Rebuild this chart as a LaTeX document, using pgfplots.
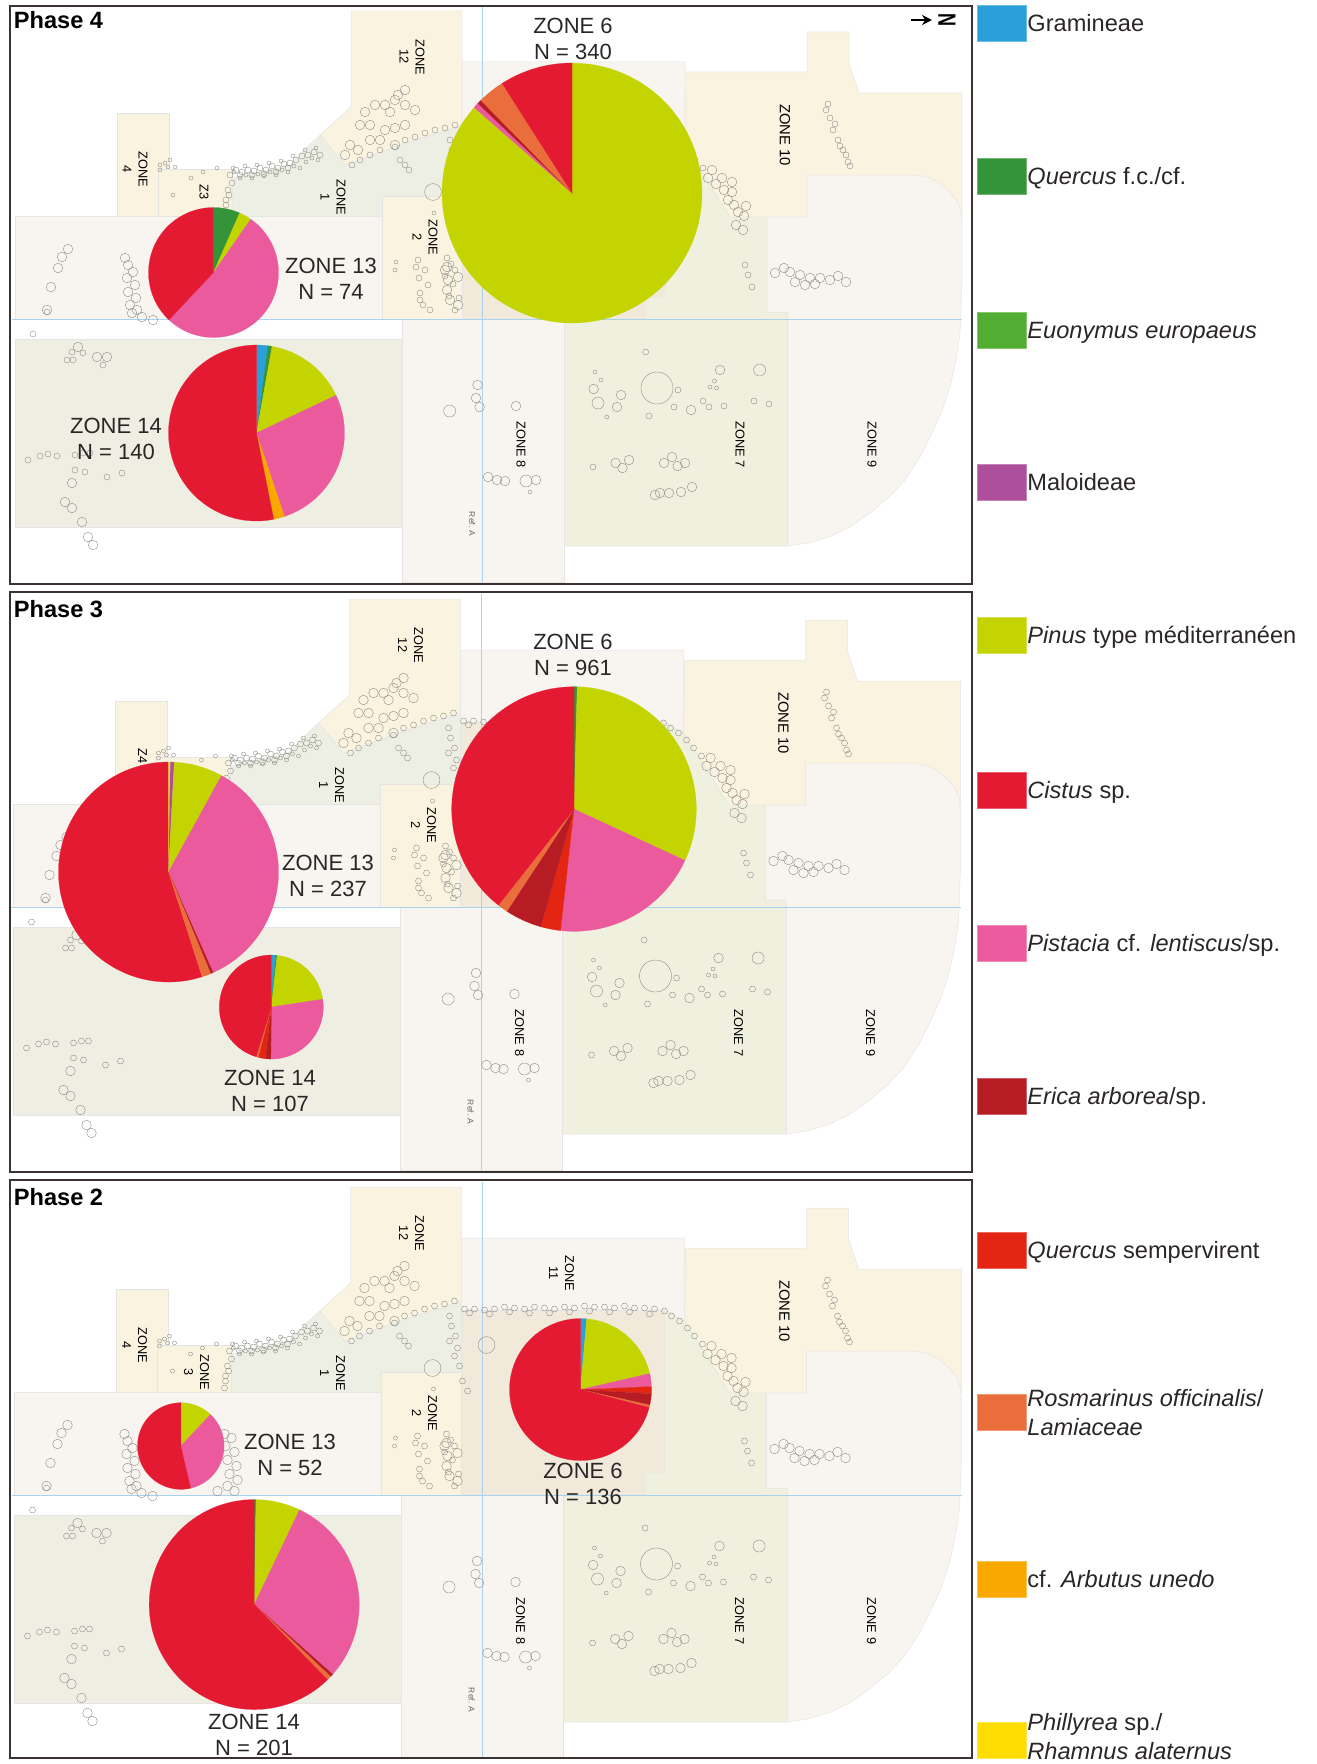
\documentclass[border=0pt]{standalone}
\usepackage{pgfplots}
\usepackage{fontspec}
\setmainfont{Liberation Sans}
\usetikzlibrary{arrows.meta}
\pgfplotsset{compat=1.18}
\definecolor{cGram}{HTML}{29A0D8}
\definecolor{cQfc}{HTML}{35943A}
\definecolor{cEuon}{HTML}{52AE32}
\definecolor{cMal}{HTML}{AE4F9B}
\definecolor{cPin}{HTML}{C3D400}
\definecolor{cCis}{HTML}{E41A32}
\definecolor{cPis}{HTML}{EB5A9C}
\definecolor{cEri}{HTML}{B71C25}
\definecolor{cQse}{HTML}{E22613}
\definecolor{cRos}{HTML}{E96E3C}
\definecolor{cArb}{HTML}{F9A800}
\definecolor{cPhi}{HTML}{FFDD00}
\definecolor{zCream}{HTML}{FAF3E0}
\definecolor{zGray}{HTML}{F8F5F0}
\definecolor{zSage}{HTML}{EEEFE4}
\definecolor{zOlive}{HTML}{F0F0DE}
\definecolor{zBrown}{HTML}{F1E9DA}
\definecolor{zTan}{HTML}{EFEEE3}
\definecolor{gridblue}{HTML}{A9D2EE}
\definecolor{ink}{HTML}{2B2626}
\definecolor{frame}{HTML}{3A3331}
\definecolor{stone}{HTML}{8F8D89}
% polygon helper
\newcommand\Z[2]{\addplot[fill=#1,draw=black!10,line width=0.25pt] coordinates {#2} -- cycle;}
% one slice of a pie: cx cy r start end colour (degrees clockwise from north)
\newcommand\W[6]{\addplot[fill=#6,draw=#6,line width=0.1pt,domain=#4:#5,samples=40,smooth=false]
  ({#1+#3*sin(x)},{#2-#3*cos(x)}) -- (axis cs:#1,#2) -- cycle;}
\newcommand\Rot[3]{\node[rotate=-90,align=center,inner sep=0pt,text=black,font=\fontsize{6.4}{8}\selectfont] at (axis cs:#1,#2) {#3};}
\newcommand\Cap[3]{\node[align=center,inner sep=0pt,text=ink,font=\fontsize{11}{13}\selectfont] at (axis cs:#1,#2) {#3};}
\newcommand\Sw[2]{\addplot[fill=#2,draw=#2!70!white,line width=0.3pt] coordinates {(977,#1) (1026,#1) (1026,#1+36) (977,#1+36)} -- cycle;}
\newcommand\Leg[3]{\Sw{#1}{#2}
  \node[anchor=base west,inner sep=0pt,text=ink,font=\fontsize{11.8}{14.5}\selectfont] at (axis cs:1027,#1+26.5) {#3};}
\newcommand\LegT[4]{\Sw{#1}{#2}
  \node[anchor=west,inner sep=0pt,text=ink,font=\fontsize{11.8}{14.5}\selectfont,align=left] at (axis cs:1027,#3) {#4};}
\newcommand\Stones[2]{\addplot[only marks,mark=o,mark size=#1,mark options={draw=stone,line width=0.2pt,fill=none}] coordinates {#2};}
\newcommand\mapbase{%
 \Z{zCream}{(117,113)(169,113)(169,216)(117,216)}
 \Z{zCream}{(158,169)(232,169)(232,216)(158,216)}
 \Z{zCream}{(351,11)(462,11)(462,125)(400,145)(345,165)(320,135)(351,107)}
 \Z{zSage}{(232,217)(232,178)(290,165)(307,147)(320,135)(345,165)(400,145)(465,125)(465,217)}
 \Z{zGray}{(15,216)(382,216)(382,319)(15,319)}
 \Z{zGray}{(462,62)(685,62)(685,145)(665,134)(462,134)}
 \Z{zBrown}{(462,134)(665,134)(665,297)(645,297)(645,319)(462,319)}
 \Z{zCream}{(382,196)(462,196)(462,319)(382,319)}
 \Z{zCream}{(686,72)(807,72)(807,32)(849,32)(849,63)(859,93)(962,93)(962,217)(730,217)(685,145)}
 \Z{zOlive}{(645,319)(645,297)(665,297)(665,134)(685,145)(730,217)(767,217)(767,312)(788,312)(788,546)(564,546)(564,319)}
 \Z{zGray}{(767,217)(807,217)(807,175)(915,175)(927,177)(938,182)(950,192)(957,201)(961,212)(962,225)(962,280)(960,333)(956,360)(950,387)(942,411)(932,433)(920,457)(905,480)(889,497)(870,513)(850,527)(829,537)(808,543)(788,546)(788,312)(767,312)}
 \Z{zGray}{(402,319)(564,319)(564,582)(402,582)}
 \Z{zTan}{(15,339)(402,339)(402,527)(15,527)}
 \addplot[gridblue,line width=0.4pt] coordinates {(12,319) (962,319)};
 \addplot[gridblue,line width=0.4pt] coordinates {(482.5,6) (482.5,582)};
 % stones of the walls and structures
 \Stones{1pt}{(165,163)(170,160)(160,165)(168,167)(175,167)(160,170)(173,195)(203,172)(191,178)(217,168)
   (606.7,417)(595,372)(601,380)(710,387)(716.5,388)(714.5,381)(530,492)(434,213)(396,262)(395,270)
   (234,172)(240,178)(246,175)(252,178)(258,174)(264,176)(270,172)(276,175)(282,170)(288,172)(294,166)(300,168)(306,162)(312,158)(318,160)
   (233,168)(245,166)(257,165)(269,163)(281,161)(293,156)(305,150)(316,148)}
 \Stones{1.5pt}{(230,175)(236,170)(242,172)(248,170)(254,171)(260,168)(266,170)(272,166)(278,168)(284,164)(290,163)(296,160)(302,156)(308,155)(314,152)(320,155)
   (232,183)(229,195)(226,205)(228,190)(226,200)(225,212)(240,175)(252,175)(264,174)(276,172)(288,168)
   (352,165)(360,160)(370,155)(380,150)(395,147)(405,140)(415,137)(425,133)(435,130)(445,128)(455,125)
   (465,133)(475,133)(485,134)(495,133)(505,131)(515,132)(525,133)(535,131)(545,132)(555,133)(565,131)(575,132)(585,130)(595,131)(605,131)(615,132)(625,130)(635,132)(645,132)(655,133)(665,135)(672,140)(680,145)(688,152)(695,160)(703,168)
   (470,137)(490,138)(510,136)(530,137)(550,137)(570,136)(590,135)(610,136)(630,136)(650,138)
   (450,140)(452,150)(456,160)(450,165)(458,172)(455,180)(460,190)(463,205)(468,215)
   (745,265)(748,275)(752,287)(828,104)(830,118)(833,130)(838,140)(843,150)(846,155)(848,162)(826,110)(835,124)(840,146)(850,166)
   (400,160)(405,165)(409,170)
   (645.6,352)(649,416)(678,390)(674,407)(703,401)(709,407)(724,406)(754,401)(769,404)(593,467)
   (33,334)(47,312)(72,352)(83,353)(67,360)(73,360)(103,365)(28,460)(40,456)(48,454)(57,456)(75,455)(83,453)(90,453)(75,470)(85,472)(122,473)(107,477)
   (418,260)(420,293)(425,270)(428,285)(420,300)(430,310)(416,267)(419,278)(423,305)
   (447,258)(451,264)(445,276)(453,284)(449,296)(455,310)(459,298)(455,270)}
 \Stones{2.4pt}{(365,112)(375,105)(385,105)(395,100)(405,105)(415,110)(398,95)(405,90)(390,112)(360,125)(370,125)(385,130)(395,128)(405,125)(350,145)(345,155)(358,150)(370,140)(380,140)(395,145)
   (708,178)(716,184)(724,190)(732,192)(728,200)(734,205)(738,212)(744,216)(736,225)(743,230)(712,170)(722,178)(732,182)(746,206)
   (775,273)(790,272)(800,275)(810,278)(820,278)(795,282)(805,285)(830,280)(838,276)(846,282)(784,268)(815,284)
   (621,395)(617,407)(593.6,389)(691,410)(720,370)(615.6,463)(622.5,468)(629,460)(664,463)(672,457)(677.6,466)(685,463)(655,495)(660,493)(669,493)(681,492)(692,487)(477.5,385)(476,398)(479.6,407)(516,406)(488,477)(497,480)(505,481)(536,480)
   (62,257)(68,249)(58,268)(51,287)(47,310)
   (125,258)(128,265)(133,272)(127,278)(135,285)(128,292)(136,298)(130,305)(137,310)(132,313)(142,317)(153,320)
   (225,258)(232,262)(226,270)(235,276)(228,284)(237,290)(230,298)(238,304)(228,310)(218,315)(235,315)
   (78,347)(97,357)(107,357)(65,502)(72,508)(82,522)(88,537)(93,545)(72,483)
   (447,267)(448,280)(458,277)(447,290)(450,300)(458,305)(445,270)}
 \Stones{3pt}{(598,403)(759.6,370)(449.6,411)(526,481)}
 \Stones{4.2pt}{(433,192)(487,169)}
 \Stones{8pt}{(657,388)}
 % zone labels
 \Rot{412}{57}{ZONE\\12}
 \Rot{333}{197.5}{ZONE\\1}
 \Rot{425}{237}{ZONE\\2}
 \node[rotate=-90,inner sep=0pt,text=black,font=\fontsize{7.4}{9}\selectfont] at (axis cs:785,135) {ZONE 10};
 \Rot{521}{445}{ZONE 8}
 \Rot{740}{445}{ZONE 7}
 \Rot{872}{445}{ZONE 9}
 \node[rotate=-90,inner sep=0pt,text=black!60,font=\fontsize{4.2}{5}\selectfont] at (axis cs:472,524) {Ref. A};
}
\pgfplotsset{mapaxis/.style={hide axis,scale only axis,anchor=north west,width=658pt,height=294pt,
  xmin=0,xmax=1316,ymin=0,ymax=588,y dir=reverse}}
\begin{document}
\begin{tikzpicture}
\path[use as bounding box] (0,0) rectangle (658pt,-882pt);
% Phase 4 map
\begin{axis}[mapaxis,at={(0pt,0pt)}]
 \mapbase
 \Rot{135}{169}{ZONE\\4}
 \node[rotate=-90,inner sep=0pt,text=black,font=\fontsize{6.4}{8}\selectfont] at (axis cs:204,192) {Z3};
\end{axis}
% Phase 3 map
\begin{axis}[mapaxis,at={(-0.75pt,-294pt)}]
 \mapbase
 \node[rotate=-90,inner sep=0pt,text=black,font=\fontsize{6.4}{8}\selectfont] at (axis cs:144,168) {Z4};
\end{axis}
% Phase 2 map
\begin{axis}[mapaxis,at={(-0.25pt,-588pt)}]
 \mapbase
 \Rot{135}{169}{ZONE\\4}
 \Rot{197}{196}{ZONE\\3}
 \Rot{562}{97}{ZONE\\11}
\end{axis}
% page axis: pies, captions, frames, legend
\begin{axis}[hide axis,scale only axis,anchor=north west,at={(0pt,0pt)},width=658pt,height=882pt,
  xmin=0,xmax=1316,ymin=0,ymax=1764,y dir=reverse,clip=false]
 % frames
 \addplot[frame,line width=1pt] coordinates {(10,6)(972,6)(972,584)(10,584)} -- cycle;
 \addplot[frame,line width=1pt] coordinates {(10,592)(972,592)(972,1172)(10,1172)} -- cycle;
 \addplot[frame,line width=1pt] coordinates {(10,1180)(972,1180)(972,1758)(10,1758)} -- cycle;
 % Phase 4
 \W{213.5}{272.5}{65}{0}{23.7}{cQfc}
 \W{213.5}{272.5}{65}{23.7}{35}{cPin}
 \W{213.5}{272.5}{65}{35}{223.3}{cPis}
 \W{213.5}{272.5}{65}{223.3}{360}{cCis}
 \W{256.5}{433}{88}{0}{7.5}{cGram}
 \W{256.5}{433}{88}{7.5}{10.2}{cQfc}
 \W{256.5}{433}{88}{10.2}{64.6}{cPin}
 \W{256.5}{433}{88}{64.6}{161.5}{cPis}
 \W{256.5}{433}{88}{161.5}{168.7}{cArb}
 \W{256.5}{433}{88}{168.7}{360}{cCis}
 \W{572}{193}{130}{0}{311.2}{cPin}
 \W{572}{193}{130}{311.2}{313.6}{cPis}
 \W{572}{193}{130}{313.6}{315.5}{cEri}
 \W{572}{193}{130}{315.5}{327.5}{cRos}
 \W{572}{193}{130}{327.5}{360}{cCis}
 % Phase 3
 \W{168.5}{872}{110}{162.2}{360}{cCis}
 \W{168.5}{872}{110}{0}{1}{cPhi}
 \W{168.5}{872}{110}{1}{3}{cMal}
 \W{168.5}{872}{110}{3}{28.8}{cPin}
 \W{168.5}{872}{110}{28.8}{156.1}{cPis}
 \W{168.5}{872}{110}{156.1}{157.5}{cEri}
 \W{168.5}{872}{110}{157.5}{162.2}{cRos}
 \W{271.3}{1007}{52}{0}{5}{cGram}
 \W{271.3}{1007}{52}{5}{6.5}{cQfc}
 \W{271.3}{1007}{52}{6.5}{81.3}{cPin}
 \W{271.3}{1007}{52}{81.3}{180.5}{cPis}
 \W{271.3}{1007}{52}{180.5}{186.7}{cEri}
 \W{271.3}{1007}{52}{186.7}{194.7}{cQse}
 \W{271.3}{1007}{52}{194.7}{196.9}{cRos}
 \W{271.3}{1007}{52}{196.9}{360}{cCis}
 \W{574}{809}{122.3}{0}{1.5}{cQfc}
 \W{574}{809}{122.3}{1.5}{114.9}{cPin}
 \W{574}{809}{122.3}{114.9}{186.3}{cPis}
 \W{574}{809}{122.3}{186.3}{195.8}{cQse}
 \W{574}{809}{122.3}{195.8}{213.3}{cEri}
 \W{574}{809}{122.3}{213.3}{218.2}{cRos}
 \W{574}{809}{122.3}{218.2}{360}{cCis}
 % Phase 2
 \W{580.5}{1389.5}{71}{0}{5}{cGram}
 \W{580.5}{1389.5}{71}{5}{77}{cPin}
 \W{580.5}{1389.5}{71}{77}{87.6}{cPis}
 \W{580.5}{1389.5}{71}{87.6}{93.5}{cQse}
 \W{580.5}{1389.5}{71}{93.5}{102.7}{cEri}
 \W{580.5}{1389.5}{71}{102.7}{104.7}{cRos}
 \W{580.5}{1389.5}{71}{104.7}{360}{cCis}
 \W{180.8}{1446}{43.3}{0}{43.3}{cPin}
 \W{180.8}{1446}{43.3}{43.3}{166.8}{cPis}
 \W{180.8}{1446}{43.3}{166.8}{360}{cCis}
 \W{254.2}{1604.5}{105}{0}{1}{cQfc}
 \W{254.2}{1604.5}{105}{1}{25.6}{cPin}
 \W{254.2}{1604.5}{105}{25.6}{131.7}{cPis}
 \W{254.2}{1604.5}{105}{131.7}{133.3}{cEri}
 \W{254.2}{1604.5}{105}{133.3}{135.8}{cRos}
 \W{254.2}{1604.5}{105}{135.8}{360}{cCis}
 % captions
 \Cap{573}{38.5}{ZONE 6\\N = 340}
 \Cap{331}{278.5}{ZONE 13\\N = 74}
 \Cap{116}{438.5}{ZONE 14\\N = 140}
 \Cap{573}{655}{ZONE 6\\N = 961}
 \Cap{328}{876}{ZONE 13\\N = 237}
 \Cap{270}{1091}{ZONE 14\\N = 107}
 \Cap{583}{1483.5}{ZONE 6\\N = 136}
 \Cap{290}{1455}{ZONE 13\\N = 52}
 \Cap{254}{1735}{ZONE 14\\N = 201}
 \node[anchor=west,inner sep=0pt,text=black,font=\fontsize{11.8}{14}\selectfont\bfseries] at (axis cs:13.5,20) {Phase 4};
 \node[anchor=west,inner sep=0pt,text=black,font=\fontsize{11.8}{14}\selectfont\bfseries] at (axis cs:13.5,609) {Phase 3};
 \node[anchor=west,inner sep=0pt,text=black,font=\fontsize{11.8}{14}\selectfont\bfseries] at (axis cs:13.5,1197) {Phase 2};
 % north arrow
 \addplot[black,line width=1pt,-{Stealth[length=5pt,width=5pt]}] coordinates {(911,20) (932,20)};
 \node[rotate=-90,xscale=0.72,inner sep=0pt,font=\fontsize{12.5}{14}\selectfont\bfseries] at (axis cs:947,20) {N};
 % legend
 \Leg{5}{cGram}{Gramineae}
 \Leg{158}{cQfc}{\textit{Quercus} f.c./cf.}
 \Leg{312}{cEuon}{\textit{Euonymus europaeus}}
 \Leg{464}{cMal}{Maloideae}
 \Leg{617}{cPin}{\textit{Pinus} type méditerranéen}
 \Leg{772}{cCis}{\textit{Cistus} sp.}
 \Leg{925}{cPis}{\textit{Pistacia} cf. \textit{lentiscus}/sp.}
 \Leg{1078}{cEri}{\textit{Erica arborea}/sp.}
 \Leg{1232}{cQse}{\textit{Quercus} sempervirent}
 \LegT{1394}{cRos}{1413}{\textit{Rosmarinus officinalis}/\\\textit{Lamiaceae}}
 \Leg{1561}{cArb}{cf. \textit{Arbutus unedo}}
 \LegT{1722}{cPhi}{1737}{\textit{Phillyrea} sp./\\\textit{Rhamnus alaternus}}
\end{axis}
\end{tikzpicture}
\end{document}
